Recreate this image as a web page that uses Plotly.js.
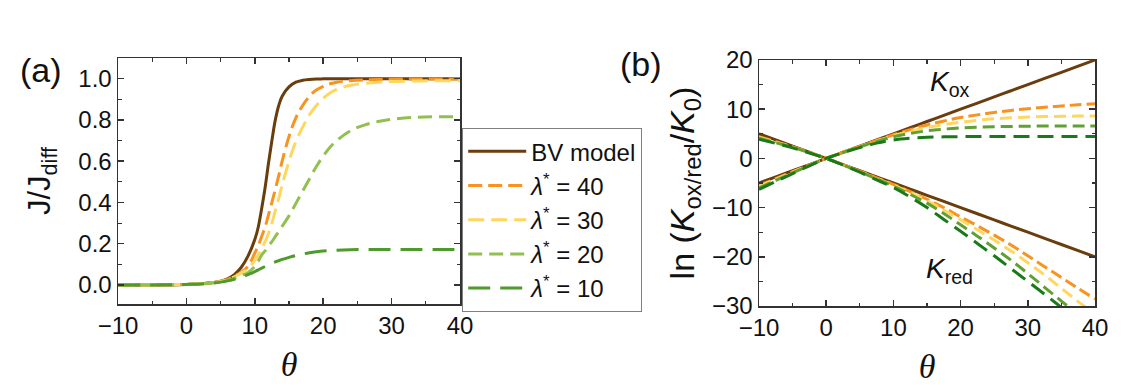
<!DOCTYPE html>
<html>
<head>
<meta charset="utf-8">
<script src="https://cdn.plot.ly/plotly-3.0.1.min.js"></script>
<style>html,body{margin:0;padding:0;background:#fff;}#chart{width:1130px;height:392px;}</style>
</head>
<body>
<div id="chart"></div>
<script>
// ---------- Panel (a): J/Jdiff vs theta ----------
var thetaA = [-10,-5,0,2,4,5,6,7,8,9,10,10.5,11,11.5,12,12.5,13,13.5,14,15,16,17,18,19,20,21,22,24,26,28,30,33,36,40];
var jBV   = [0,0,0.003,0.006,0.012,0.018,0.03,0.05,0.085,0.14,0.22,0.28,0.37,0.47,0.59,0.70,0.80,0.87,0.915,0.96,0.983,0.992,0.996,0.998,0.999,1,1,1,1,1,1,1,1,1];
var jL40  = [0,0,0.003,0.006,0.012,0.017,0.027,0.042,0.062,0.09,0.155,0.19,0.235,0.28,0.34,0.40,0.465,0.53,0.60,0.72,0.81,0.87,0.915,0.945,0.962,0.975,0.983,0.99,0.994,0.996,0.997,0.998,0.998,0.998];
var jL30  = [0,0,0.003,0.006,0.012,0.017,0.026,0.04,0.058,0.08,0.12,0.145,0.175,0.21,0.25,0.30,0.36,0.42,0.485,0.60,0.695,0.765,0.825,0.87,0.905,0.93,0.948,0.968,0.977,0.983,0.986,0.988,0.99,0.99];
var jL20  = [0,0,0.003,0.006,0.011,0.015,0.022,0.032,0.045,0.06,0.09,0.115,0.145,0.165,0.19,0.21,0.235,0.26,0.285,0.335,0.395,0.455,0.515,0.574,0.625,0.668,0.70,0.748,0.775,0.792,0.803,0.812,0.815,0.815];
var jL10  = [0,0,0.003,0.005,0.01,0.014,0.02,0.028,0.038,0.05,0.065,0.073,0.082,0.09,0.098,0.105,0.112,0.118,0.124,0.134,0.143,0.15,0.156,0.161,0.165,0.167,0.169,0.171,0.172,0.172,0.172,0.172,0.172,0.172];

// ---------- Panel (b): ln(K/K0) vs theta ----------
var thetaB = [-10,-7.5,-5,-2.5,0,2.5,5,7.5,10,12.5,15,17.5,20,22.5,25,27.5,30,32.5,35,37.5,40];
var oxBV  = [-5,-3.75,-2.5,-1.25,0,1.25,2.5,3.75,5,6.25,7.5,8.75,10,11.25,12.5,13.75,15,16.25,17.5,18.75,20];
var redBV = [5,3.75,2.5,1.25,0,-1.25,-2.5,-3.75,-5,-6.25,-7.5,-8.75,-10,-11.25,-12.5,-13.75,-15,-16.25,-17.5,-18.75,-20];
var oxL40 = [-5.5,-4.1,-2.7,-1.35,0,1.25,2.45,3.65,4.8,5.85,6.8,7.6,8.3,8.85,9.35,9.75,10.1,10.4,10.65,10.9,11.1];
var oxL30 = [-5.7,-4.25,-2.8,-1.4,0,1.25,2.4,3.55,4.6,5.5,6.25,6.85,7.35,7.75,8.05,8.25,8.4,8.5,8.55,8.6,8.6];
var oxL20 = [-6.0,-4.45,-2.95,-1.45,0,1.2,2.35,3.45,4.4,5.1,5.6,5.95,6.2,6.35,6.45,6.5,6.55,6.6,6.6,6.6,6.6];
var oxL10 = [-6.3,-4.7,-3.1,-1.5,0,1.15,2.2,3.1,3.75,4.1,4.3,4.38,4.42,4.44,4.45,4.45,4.45,4.45,4.45,4.45,4.45];
var redL40 = [4.4,3.4,2.35,1.2,0,-1.28,-2.6,-3.95,-5.3,-6.75,-8.3,-10.0,-11.9,-13.7,-15.6,-17.6,-19.8,-22.0,-24.2,-26.4,-28.6];
var redL30 = [4.25,3.3,2.3,1.18,0,-1.3,-2.65,-4.05,-5.45,-6.95,-8.6,-10.5,-12.5,-14.5,-16.6,-18.8,-21.2,-23.7,-26.4,-29.1,-31.6];
var redL20 = [4.1,3.2,2.25,1.15,0,-1.32,-2.7,-4.15,-5.65,-7.3,-9.1,-11.2,-13.5,-15.8,-18.2,-20.7,-23.4,-26.2,-29.0,-31.8,-34.5];
var redL10 = [3.9,3.05,2.15,1.1,0,-1.35,-2.8,-4.35,-5.95,-7.85,-10.0,-12.4,-14.8,-17.3,-19.8,-22.4,-25.0,-27.6,-30.3,-33.0,-35.7];

var names = ['BV model','<i>λ</i><sup>*</sup> = 40','<i>λ</i><sup>*</sup> = 30','<i>λ</i><sup>*</sup> = 20','<i>λ</i><sup>*</sup> = 10'];
var colA = ['#6A3D0C','#F7931E','#FFD75E','#92C050','#4E9A2B'];
var colB = ['#6A3D0C','#F7931E','#FFD75E','#62A033','#1A7A1A'];
var dashA = ['solid','14px,6px','16px,7px','14px,7px','22px,10px'];
var dashB = ['solid','12px,5px','12px,6px','12px,6px','16px,8px'];

var seriesA = [jBV,jL40,jL30,jL20,jL10];
var seriesOx = [oxBV,oxL40,oxL30,oxL20,oxL10];
var seriesRed = [redBV,redL40,redL30,redL20,redL10];

var traces = [];
for (var i = 0; i < 5; i++) {
  traces.push({x: thetaA, y: seriesA[i], type: 'scatter', mode: 'lines', name: names[i],
    legendgroup: 'g'+i, xaxis: 'x', yaxis: 'y', line: {color: colA[i], width: 3, dash: dashA[i], shape: 'spline'}});
}
for (var i = 0; i < 5; i++) {
  traces.push({x: thetaB, y: seriesOx[i], type: 'scatter', mode: 'lines', showlegend: false,
    legendgroup: 'g'+i, xaxis: 'x2', yaxis: 'y2', line: {color: colB[i], width: 3, dash: dashB[i], shape: 'spline'}});
  traces.push({x: thetaB, y: seriesRed[i], type: 'scatter', mode: 'lines', showlegend: false,
    legendgroup: 'g'+i, xaxis: 'x2', yaxis: 'y2', line: {color: colB[i], width: 3, dash: dashB[i], shape: 'spline'}});
}

var W = 1130, H = 392;
var font = 'Arial, "Liberation Sans", sans-serif';
var serif = '"Liberation Serif", "DejaVu Serif", serif';
function axisBase() {
  return {showline: true, linecolor: '#333', linewidth: 1.5, mirror: 'allticks',
    ticks: 'inside', ticklen: 6, tickwidth: 1.5, tickcolor: '#333',
    showgrid: false, zeroline: false, tickfont: {size: 24, color: '#111', family: font}};
}
var xa = Object.assign(axisBase(), {domain: [118/W, 460/W], range: [-10, 40], tick0: 0, dtick: 10,
  minor: {dtick: 5, ticks: 'inside', ticklen: 3.5, tickwidth: 1.2, tickcolor: '#333'},
  anchor: 'y', title: {text: '<i>θ</i>', font: {size: 34, family: serif, color: '#111'}, standoff: 14}});
var ya = Object.assign(axisBase(), {domain: [1-304/H, 1-58/H], range: [-0.092, 1.10], tick0: 0, dtick: 0.2, tickformat: '.1f',
  minor: {dtick: 0.1, ticks: 'inside', ticklen: 3.5, tickwidth: 1.2, tickcolor: '#333'},
  anchor: 'x', title: {text: 'J/J<sub>diff</sub>', font: {size: 31, family: font, color: '#111'}, standoff: 18}});
var xb = Object.assign(axisBase(), {domain: [759/W, 1095/W], range: [-10, 40], tick0: 0, dtick: 10,
  minor: {dtick: 5, ticks: 'inside', ticklen: 3.5, tickwidth: 1.2, tickcolor: '#333'},
  anchor: 'y2', title: {text: '<i>θ</i>', font: {size: 34, family: serif, color: '#111'}, standoff: 14}});
var yb = Object.assign(axisBase(), {domain: [1-306/H, 1-60/H], range: [-30, 20], tick0: 0, dtick: 10,
  minor: {dtick: 5, ticks: 'inside', ticklen: 3.5, tickwidth: 1.2, tickcolor: '#333'},
  anchor: 'x2', title: {text: 'ln (<i>K</i><sub>ox/red</sub>/<i>K</i><sub>0</sub>)', font: {size: 34, family: font, color: '#111'}, standoff: 7}});

var layout = {
  width: W, height: H, margin: {l: 0, r: 0, t: 0, b: 0},
  paper_bgcolor: '#fff', plot_bgcolor: '#fff',
  font: {family: font, color: '#111'},
  xaxis: xa, yaxis: ya, xaxis2: xb, yaxis2: yb,
  showlegend: true,
  legend: {x: 462/W, y: 1-128/H, xanchor: 'left', yanchor: 'top', bgcolor: '#fff',
    bordercolor: '#808080', borderwidth: 1.2, font: {size: 24, family: font, color: '#111'},
    traceorder: 'grouped', tracegroupgap: 0, itemwidth: 58},
  annotations: [
    {xref: 'paper', yref: 'paper', x: 18/W, y: 1-70/H, xanchor: 'left', yanchor: 'middle', showarrow: false,
      text: '(a)', font: {size: 34, family: font, color: '#111'}},
    {xref: 'paper', yref: 'paper', x: 618/W, y: 1-64/H, xanchor: 'left', yanchor: 'middle', showarrow: false,
      text: '(b)', font: {size: 34, family: font, color: '#111'}},
    {xref: 'x2', yref: 'y2', x: 18.4, y: 15.2, showarrow: false,
      text: '<i>K</i><sub>ox</sub>', font: {size: 28, family: font, color: '#111'}},
    {xref: 'x2', yref: 'y2', x: 18.4, y: -22.8, showarrow: false,
      text: '<i>K</i><sub>red</sub>', font: {size: 28, family: font, color: '#111'}}
  ]
};
Plotly.newPlot('chart', traces, layout, {displayModeBar: false, staticPlot: true});
</script>
</body>
</html>
